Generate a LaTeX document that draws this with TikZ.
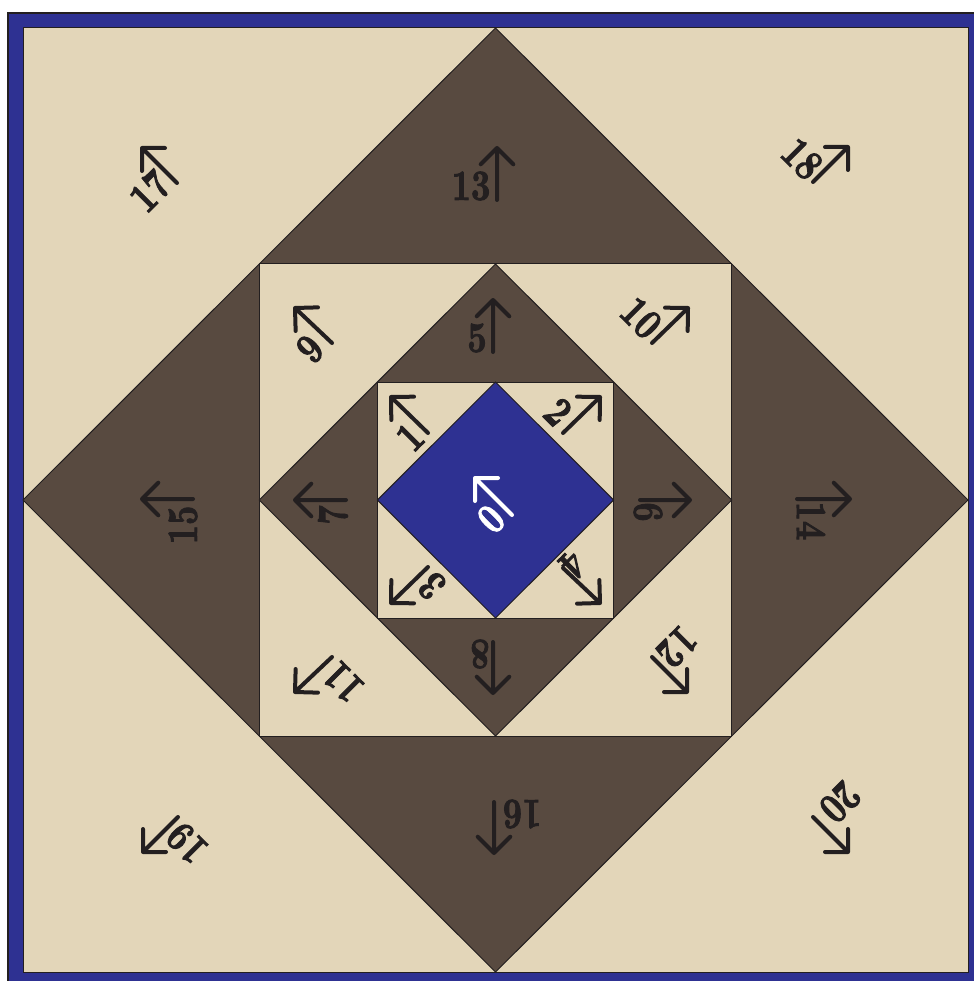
\documentclass[tikz,border=0pt]{standalone}
\usepackage{fontspec}
\newfontfamily\numfont{lmroman10-bold.otf}[FakeBold=2.4]
\usetikzlibrary{calc}
\definecolor{bluec}{RGB}{46,49,146}
\definecolor{beige}{RGB}{227,214,185}
\definecolor{darkb}{RGB}{88,74,64}
\definecolor{ink}{RGB}{35,31,32}
\tikzset{
  region/.style={draw=ink, line width=1pt, line join=miter},
  numtxt/.style={font=\fontsize{43}{43}\selectfont\numfont, inner sep=0pt, anchor=center},
  arrowline/.style={line width=4pt, line cap=round, line join=round},
}
% #1 number, #2 tail, #3 head, #4 number centre, #5 rotation, #6 colour
\newcommand\labl[6]{%
  \coordinate (l#1t) at (#2);
  \coordinate (l#1h) at (#3);
  \draw[arrowline, draw=#6] (l#1t) -- (l#1h)
     ($(l#1h)!23pt!45:(l#1t)$) -- (l#1h) -- ($(l#1h)!23pt!-45:(l#1t)$);
  \node[numtxt, text=#6, rotate=#5] (l#1n) at (#4) {\scalebox{0.78}[1]{#1}};
}
\begin{document}
\begin{tikzpicture}[x=1pt,y=-1pt]
\useasboundingbox (0,0) rectangle (973,981);
% frame
\fill[bluec, draw=ink, line width=1.5pt] (8,13) rectangle (995,1000);
\filldraw[region, fill=beige] (23,28) rectangle (968,972);
% outer diamond
\filldraw[region, fill=darkb] (495.5,28) -- (968,500) -- (495.5,972) -- (23,500) -- cycle;
% middle square
\filldraw[region, fill=beige] (259.25,264) rectangle (731.75,736);
% middle diamond
\filldraw[region, fill=darkb] (495.5,264) -- (731.75,500) -- (495.5,736) -- (259.25,500) -- cycle;
% inner square
\filldraw[region, fill=beige] (377.4,382) rectangle (613.6,618);
% inner diamond
\filldraw[region, fill=bluec] (495.5,382) -- (613.6,500) -- (495.5,618) -- (377.4,500) -- cycle;
% labels
\labl{0}{512,515}{475,478}{491,519}{45}{white}
\labl{1}{428,433}{391,397}{410,437}{45}{ink}
\labl{2}{563,433}{600,397}{558,412}{-45}{ink}
\labl{3}{428,567}{391,603}{432,586}{135}{ink}
\labl{4}{563,568}{600,603}{573,565}{-135}{ink}
\labl{5}{493,352}{493,300}{477,338}{0}{ink}
\labl{6}{640,500}{690,500}{648,512}{-90}{ink}
\labl{7}{346,500}{295,500}{333,515}{90}{ink}
\labl{8}{493,642}{493,693}{480,654}{180}{ink}
\labl{9}{332,343}{295,308}{310,349}{45}{ink}
\labl{10}{652,343}{688,308}{641,318}{-45}{ink}
\labl{11}{332,657}{295,692}{343,682}{135}{ink}
\labl{12}{652,657}{687,692}{677,647}{-135}{ink}
\labl{13}{497,200}{497,148}{471,186}{0}{ink}
\labl{14}{797,499}{850,499}{811,521}{-90}{ink}
\labl{15}{193,499}{142,499}{183,525}{90}{ink}
\labl{16}{494,802}{494,853}{522,814}{180}{ink}
\labl{17}{177,183}{142,148}{150,191}{45}{ink}
\labl{18}{813,182}{848,147}{802,159}{-45}{ink}
\labl{19}{178,817}{143,852}{187,843}{135}{ink}
\labl{20}{813,817}{848,852}{840,802}{-135}{ink}
\end{tikzpicture}
\end{document}
